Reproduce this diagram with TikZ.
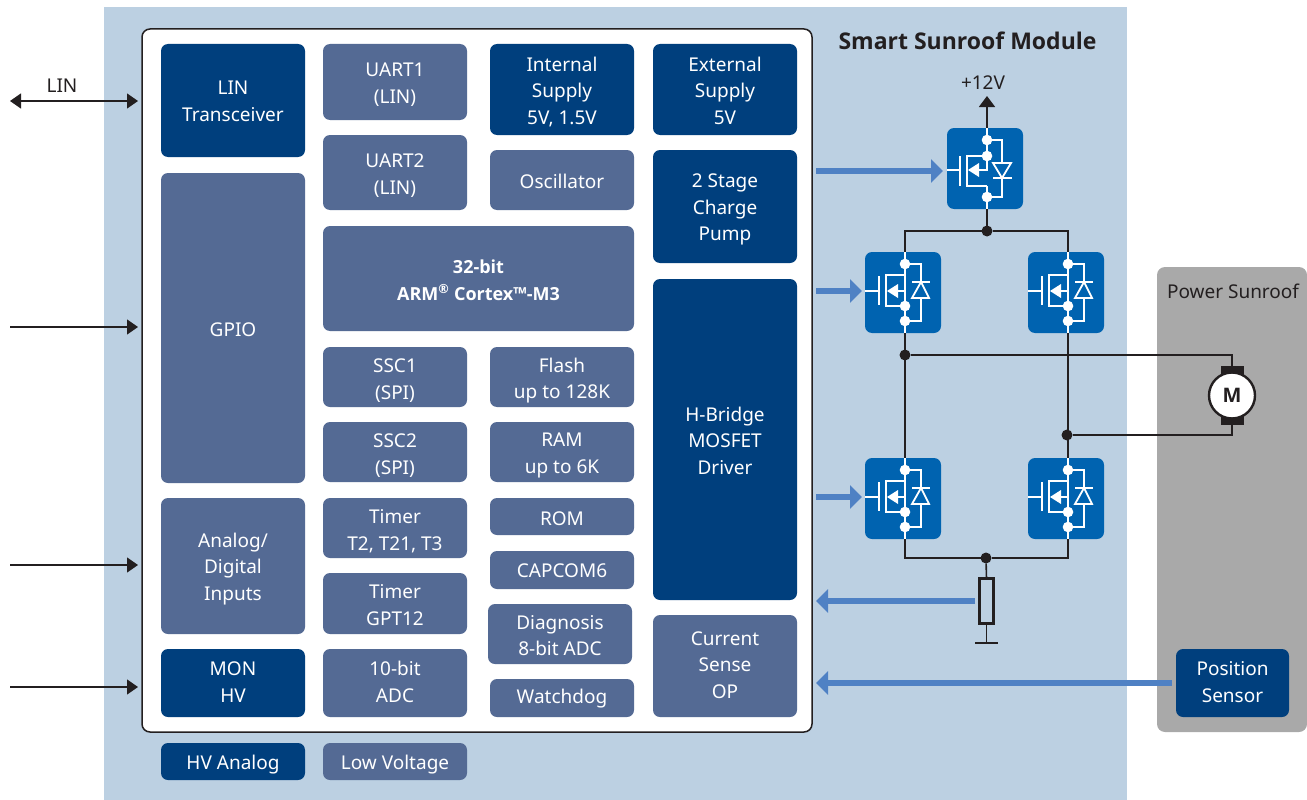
\documentclass[tikz,border=0pt]{standalone}
\usepackage{fontspec}
\setmainfont{Noto Sans}
\newfontfamily\heavyfont{Open Sans}
\usetikzlibrary{arrows.meta}
\definecolor{bgblue}{HTML}{BCD0E2}
\definecolor{hvblue}{HTML}{003F7D}
\definecolor{lvblue}{HTML}{546A94}
\definecolor{fetblue}{HTML}{0063B0}
\definecolor{arrblue}{HTML}{4F81C4}
\definecolor{panelgray}{HTML}{A9A9A9}
\definecolor{ink}{HTML}{231F20}
\newcommand{\hv}[1]{{\heavyfont\bfseries #1}}
\tikzset{
  fetbox/.style={rounded corners=7pt,fill=fetblue,inner sep=0pt,outer sep=0pt,minimum width=76pt,minimum height=81pt},
  wire/.style={draw=ink,line width=1.6pt},
  sigarrow/.style={draw=ink,line width=1.3pt,-{Triangle[length=11pt,width=15pt]}},
  sigboth/.style={draw=ink,line width=1.3pt,{Triangle[length=11pt,width=15pt]}-{Triangle[length=11pt,width=15pt]}},
  bluearrow/.style={draw=arrblue,line width=6pt,-{Triangle[length=12pt,width=23pt]}},
  fetline/.style={draw=white,line width=1.8pt},
  plainlabel/.style={text=ink,inner sep=0pt,font=\fontsize{19}{26.5}\selectfont,align=center},
  blackdot/.style={circle,fill=ink,minimum size=11pt,inner sep=0pt,outer sep=0pt},
  hvfill/.style={fill=hvblue,rounded corners=7pt},
  lvfill/.style={fill=lvblue,rounded corners=7pt},
}
% name, x1, y1, x2, y2, style, text-offset (px down), text
\newcommand{\blk}[8]{%
  \path[#6,draw=none] (#2,#3) rectangle (#4,#5);
  \node[align=center,text=white,inner sep=0pt,outer sep=0pt,font=\fontsize{19}{26.5}\selectfont,minimum width={#4pt-#2pt},minimum height={#5pt-#3pt}] (#1) at ({(#2+#4)/2},{(#3+#5)/2+#7}) {#8};}
\newcommand{\fetdown}[3]{%
  \node[fetbox,anchor=north west] (#1) at (#2,#3) {};
  \begin{scope}[shift={(#2,#3)}]
    \coordinate (#1t) at (40,0); \coordinate (#1b) at (40,81); \coordinate (#1g) at (0,39);
    \draw[fetline] (40,0) -- (40,81);
    \draw[fetline] (40,12) -- (56,12) -- (56,69) -- (40,69);
    \draw[fetline] (0,39) -- (14,39);
    \draw[fetline,line width=2.2pt] (14,24) -- (14,53);
    \draw[fetline] (40,23) -- (21,23) -- (21,54) -- (40,54);
    \draw[fetline] (33,39) -- (40,39) -- (40,54);
    \fill[white] (22,39) -- (33,32) -- (33,46) -- cycle;
    \draw[fetline,fill=fetblue] (56,30) -- (64,46) -- (47,46) -- cycle;
    \draw[fetline] (47,30) -- (65,30);
    \fill[white] (40,12) circle (5.3) (40,54) circle (5.3) (40,69) circle (5.3);
  \end{scope}}
\newcommand{\fetup}[3]{%
  \node[fetbox,anchor=north west] (#1) at (#2,#3) {};
  \begin{scope}[shift={(#2,#3)}]
    \coordinate (#1t) at (40,0); \coordinate (#1b) at (40,81); \coordinate (#1g) at (0,42);
    \draw[fetline] (40,0) -- (40,28);
    \draw[fetline] (40,58) -- (40,81);
    \draw[fetline] (40,12) -- (55,12) -- (55,69) -- (40,69);
    \draw[fetline] (0,42) -- (13,42);
    \draw[fetline,line width=2.2pt] (13,28) -- (13,58);
    \draw[fetline] (40,28) -- (20,28) -- (20,58) -- (40,58);
    \draw[fetline] (32,42) -- (40,42) -- (40,28);
    \fill[white] (21,42) -- (32,35) -- (32,49) -- cycle;
    \draw[fetline,fill=fetblue] (46,35) -- (64,35) -- (55,50) -- cycle;
    \draw[fetline] (46,50) -- (65,50);
    \fill[white] (40,12) circle (5.3) (40,28) circle (5.3) (40,69) circle (5.3);
  \end{scope}}
\begin{document}
\begin{tikzpicture}[x=1pt,y=-1pt]
\useasboundingbox (0,0) rectangle (1307,800);
\fill[bgblue] (104,7) rectangle (1127,800);
\fill[panelgray,rounded corners=8pt] (1157,267) rectangle (1307,732);
\draw[ink,fill=white,line width=1.5pt,rounded corners=8pt] (142,29) rectangle (812,732);
\blk{lin}{161}{44}{305}{157}{hvfill}{1}{LIN\\Transceiver}
\blk{gpio}{161}{173}{305}{483}{lvfill}{2}{GPIO}
\blk{analog}{161}{498}{305}{634}{lvfill}{3}{Analog/\\Digital\\Inputs}
\blk{mon}{161}{649}{305}{717}{hvfill}{-1}{MON\\HV}
\blk{uarta}{323}{44}{467}{120}{lvfill}{2.5}{UART1\\(LIN)}
\blk{uartb}{323}{135}{467}{210}{lvfill}{3}{UART2\\(LIN)}
\blk{cpu}{323}{226}{634}{331}{lvfill}{1.5}{\fontsize{18}{26.5}\selectfont\hv{32-bit}\\\fontsize{18}{26.5}\selectfont\hv{ARM\textsuperscript{®} Cortex™-M3}}
\blk{ssca}{323}{347}{467}{407}{lvfill}{3.5}{SSC1\\(SPI)}
\blk{sscb}{323}{422}{467}{482}{lvfill}{3.5}{SSC2\\(SPI)}
\blk{timera}{323}{498}{467}{558}{lvfill}{3}{Timer\\T2, T21, T3}
\blk{timerb}{323}{573}{467}{634}{lvfill}{1.5}{Timer\\GPT12}
\blk{adc}{323}{649}{467}{717}{lvfill}{-1}{10-bit\\ADC}
\blk{intsup}{490}{44}{634}{135}{hvfill}{2.5}{Internal\\Supply\\5V, 1.5V}
\blk{osc}{490}{150}{634}{210}{lvfill}{1}{Oscillator}
\blk{flash}{490}{347}{634}{407}{lvfill}{3.5}{Flash\\up to 128K}
\blk{ram}{490}{422}{634}{482}{lvfill}{3.5}{RAM\\up to 6K}
\blk{rom}{490}{498}{634}{535}{lvfill}{2}{ROM}
\blk{capcom}{490}{551}{634}{589}{lvfill}{1}{CAPCOM6}
\blk{diag}{488}{604}{632}{664}{lvfill}{1.5}{Diagnosis\\8-bit ADC}
\blk{wdog}{490}{679}{634}{717}{lvfill}{1}{Watchdog}
\blk{extsup}{653}{44}{797}{135}{hvfill}{1}{External\\Supply\\5V}
\blk{pump}{653}{150}{797}{263}{hvfill}{3}{2 Stage\\Charge\\Pump}
\blk{hbridge}{653}{279}{797}{600}{hvfill}{1}{H-Bridge\\MOSFET\\Driver}
\blk{opamp}{653}{615}{797}{717}{lvfill}{-1}{Current\\Sense\\OP}
\blk{leghv}{161}{743}{305}{780}{hvfill}{3}{HV Analog}
\blk{leglv}{323}{743}{467}{780}{lvfill}{3}{Low Voltage}
\blk{possens}{1176}{649}{1289}{717}{hvfill}{-1}{Position\\Sensor}
\node[text=ink,inner sep=0pt,font=\fontsize{23}{28}\selectfont] (title) at (967.5,40.5) {\hv{Smart Sunroof Module}};
\node[plainlabel] (roof) at (1233,291) {Power Sunroof};
\node[plainlabel] (linlab) at (62,86) {LIN};
\node[plainlabel] (vcc) at (983,83) {+12V};
\fetup{qs}{947}{128}
\fetdown{qa}{865}{252}
\fetdown{qb}{1028}{252}
\fetdown{qc}{865}{458}
\fetdown{qd}{1028}{458}
\node[blackdot] (jtop) at (987,231) {};
\node[blackdot] (jleft) at (905,355) {};
\node[blackdot] (jright) at (1067,435) {};
\node[blackdot] (jbot) at (986,558) {};
\fill[ink] (1221,366) rectangle (1244,376);
\fill[ink] (1221,414) rectangle (1244,425);
\coordinate (mtop) at (1232,366);
\coordinate (mbot) at (1232,425);
\node[circle,draw=ink,fill=white,line width=2.4pt,minimum size=46pt,inner sep=0pt,text=ink,font=\fontsize{20}{24}\selectfont] (motor) at (1232,395.5) {\hv{M}};
\node[draw=ink,line width=2.4pt,minimum width=14pt,minimum height=45pt,inner sep=0pt,outer sep=0pt] (shunt) at (986.5,601) {};
\coordinate (gnd) at (986.5,643);
\coordinate (gndl) at (975,643);
\coordinate (gndr) at (998,643);
\coordinate (vccend) at (987,96);
\draw[draw=ink,line width=1.6pt,-{Triangle[length=11pt,width=16pt]}] (qst) -- (vccend);
\draw[wire] (qsb) -- (jtop);
\draw[wire] (qat) |- (jtop);
\draw[wire] (qbt) |- (jtop);
\draw[wire] (qab) -- (qct);
\draw[wire] (qbb) -- (qdt);
\draw[wire] (jleft) -| (mtop);
\draw[wire] (jright) -| (mbot);
\draw[wire] (qcb) |- (jbot);
\draw[wire] (qdb) |- (jbot);
\draw[wire] (jbot) -- (shunt.north);
\draw[wire] (shunt.south) -- (gnd);
\draw[draw=ink,line width=2.2pt] (gndl) -- (gndr);
\coordinate (ea) at (10,101); \coordinate (eb) at (138,101);
\coordinate (ec) at (10,327); \coordinate (ed) at (138,327);
\coordinate (ee) at (10,565); \coordinate (ef) at (138,565);
\coordinate (eg) at (10,687); \coordinate (eh) at (138,687);
\draw[sigboth] (ea) -- (eb);
\draw[sigarrow] (ec) -- (ed);
\draw[sigarrow] (ee) -- (ef);
\draw[sigarrow] (eg) -- (eh);
\coordinate (ba) at (816,171); \coordinate (bb) at (816,291); \coordinate (bc) at (816,497);
\coordinate (bd) at (975,601); \coordinate (be) at (816,601);
\coordinate (bf) at (1172,683); \coordinate (bg) at (816,683);
\coordinate (baend) at (943,171); \coordinate (bbend) at (862,291); \coordinate (bcend) at (862,497);
\draw[bluearrow] (ba) -- (baend);
\draw[bluearrow] (bb) -- (bbend);
\draw[bluearrow] (bc) -- (bcend);
\draw[bluearrow] (bd) -- (be);
\draw[bluearrow] (bf) -- (bg);
\end{tikzpicture}
\end{document}
